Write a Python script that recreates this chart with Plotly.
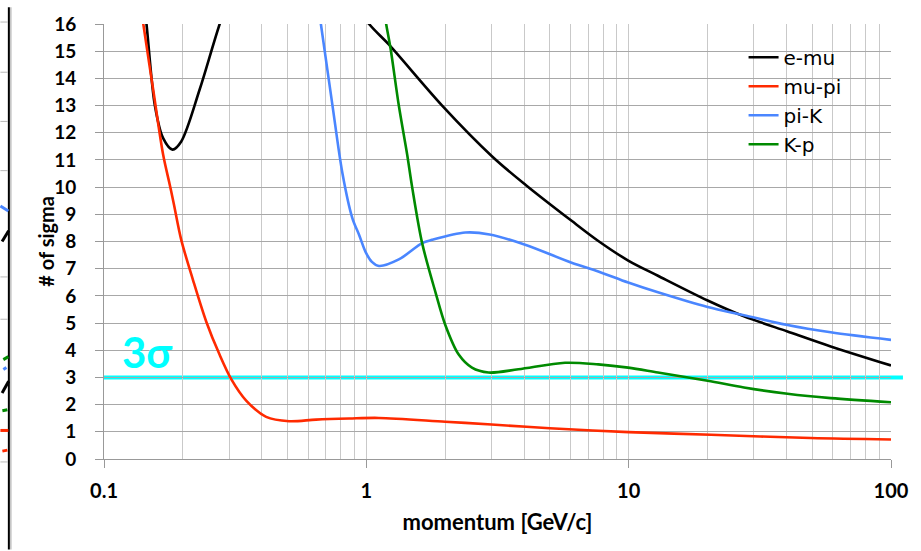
import plotly.graph_objects as go

# ---- data: separation power (# of sigma) vs momentum [GeV/c] ----
emu_p = [0.14, 0.1452, 0.1563, 0.168, 0.1824, 0.197, 0.2317, 0.276, 0.4, 0.7,
         1.024, 1.22, 1.945, 3.025, 4.05, 6.06, 7.66, 9.96, 12.93, 20.0, 27.5,
         40.3, 58.9, 100]
emu_s = [17.3, 16.0, 13.0, 11.8, 11.38, 11.68, 13.6, 16.0, 20.5, 18.2,
         16.0, 15.24, 13.0, 11.12, 10.08, 8.76, 8.02, 7.3, 6.74, 5.83, 5.25,
         4.69, 4.14, 3.44]

mupi_p = [0.135, 0.1412, 0.1539, 0.168, 0.178, 0.1845, 0.197, 0.218, 0.2454,
          0.2757, 0.3055, 0.3483, 0.415, 0.508, 0.643, 0.86, 1.117, 2.0, 3.0,
          5.0, 10.0, 20.6, 49.4, 100]
mupi_s = [17.4, 16.0, 13.6, 11.2, 10.1, 9.39, 8.06, 6.61, 5.05,
          3.84, 2.94, 2.15, 1.55, 1.39, 1.45, 1.49, 1.51, 1.37, 1.27,
          1.13, 0.99, 0.89, 0.77, 0.72]

pik_p = [0.64, 0.671, 0.743, 0.811, 0.885, 0.938, 0.995, 1.05, 1.117, 1.33,
         1.632, 1.78, 2.385, 2.95, 4.03, 6.06, 7.66, 9.96, 12.93, 20.0, 27.5,
         40.3, 58.9, 100]
pik_s = [17.4, 16.0, 13.0, 10.5, 8.85, 8.25, 7.6, 7.25, 7.1, 7.34,
         7.94, 8.06, 8.33, 8.26, 7.88, 7.22, 6.9, 6.49, 6.13, 5.59, 5.29,
         4.93, 4.66, 4.38]

kp_p = [1.15, 1.19, 1.237, 1.33, 1.431, 1.495, 1.632, 1.835, 2.0, 2.25, 2.527,
        2.92, 3.8, 5.72, 7.66, 9.96, 12.93, 20.0, 27.5, 40.3, 58.9, 100]
kp_s = [16.9, 16.0, 15.1, 13.0, 11.2, 10.0, 7.94, 6.13, 4.93, 3.84, 3.36,
        3.18, 3.30, 3.54, 3.48, 3.36, 3.18, 2.88, 2.63, 2.40, 2.24, 2.09]

threshold = 3  # 3 sigma line

series = [
    ("e-mu", emu_p, emu_s, "#000000"),
    ("mu-pi", mupi_p, mupi_s, "#ff2a00"),
    ("pi-K", pik_p, pik_s, "#4a86ff"),
    ("K-p", kp_p, kp_s, "#008a00"),
]

x_major = [0.1, 1, 10, 100]
x_major_text = ["0.1", "1", "10", "100"]
x_minor = [m * d for d in (0.1, 1, 10) for m in range(2, 10)]

fig = go.Figure()
for name, p, s, col in series:
    fig.add_trace(go.Scatter(
        x=p, y=s, name=name, mode="lines",
        line=dict(color=col, width=2.6, shape="spline", smoothing=0.9),
    ))

# plot-area geometry in pixels (used for the decorations outside the axes)
W, H = 921, 551
L, R, T, B = 104, 27, 17, 92
PW, PH = W - L - R, H - T - B


def px(x):
    return (x - L) / PW


def py(y):
    return (H - B - y) / PH


shapes = [
    dict(type="line", xref="paper", yref="paper", x0=px(103), x1=px(906),
         y0=threshold / 16, y1=threshold / 16,
         line=dict(color="#00ffff", width=4), layer="between"),
]

# edge of the neighbouring panel on the slide
shapes.append(dict(type="line", xref="paper", yref="paper", x0=px(8.5), x1=px(8.5),
                   y0=py(0), y1=py(551), line=dict(color="#000000", width=2)))
shapes.append(dict(type="line", xref="paper", yref="paper", x0=px(10.5), x1=px(10.5),
                   y0=py(0), y1=py(551), line=dict(color="#c0c0c0", width=1.5)))
for gy in (15, 66, 116, 166, 274, 317, 462):
    shapes.append(dict(type="line", xref="paper", yref="paper", x0=px(0), x1=px(7.5),
                       y0=py(gy), y1=py(gy), line=dict(color="#b8b8b8", width=1)))
stubs = [
    ((0, 202), (8, 207), "#4a86ff", 3),
    ((1.7, 238), (8.3, 227), "#000000", 3),
    ((3, 358), (8, 355), "#008a00", 3),
    ((3, 368), (6, 366), "#4a86ff", 3),
    ((1.7, 392), (8.3, 380), "#000000", 3),
    ((2, 410), (7, 409), "#008a00", 3),
    ((0, 430), (8, 430), "#ff2a00", 3),
    ((2, 451), (7, 450), "#ff2a00", 3),
]
for (xa, ya), (xb, yb), col, w in stubs:
    shapes.append(dict(type="line", xref="paper", yref="paper", x0=px(xa), x1=px(xb),
                       y0=py(ya), y1=py(yb), line=dict(color=col, width=w)))

fig.update_layout(
    width=W, height=H,
    margin=dict(l=L, r=R, t=T, b=B, pad=0),
    paper_bgcolor="white", plot_bgcolor="white",
    font=dict(family="Lato", color="#000000"),
    shapes=shapes,
    annotations=[
        dict(text="<b>3σ</b>", xref="paper", yref="paper", x=px(148), y=py(350),
             xanchor="center", yanchor="middle", showarrow=False,
             font=dict(family="Lato", size=42, color="#00ffff")),
        dict(text="<b># of sigma</b>", xref="paper", yref="paper", x=px(45), y=0.5,
             xanchor="center", yanchor="middle", showarrow=False, textangle=-90,
             font=dict(family="Lato", size=20, color="#000000")),
    ],
    legend=dict(
        x=px(746), y=py(31), xanchor="left", yanchor="top",
        bgcolor="rgba(0,0,0,0)", borderwidth=0,
        font=dict(family="DejaVu Sans", size=20, color="#000000"),
    ),
    showlegend=True,
)

fig.update_xaxes(
    type="log", range=[-1, 2],
    tickmode="array", tickvals=x_major, ticktext=x_major_text,
    ticks="outside", ticklen=8, tickwidth=1, tickcolor="#999999",
    ticklabelstandoff=6,
    tickfont=dict(family="Lato", size=20, weight="bold", color="#000000"),
    showline=True, linecolor="#999999", linewidth=1,
    showgrid=True, gridcolor="#c9c9c9", gridwidth=1.3,
    minor=dict(tickmode="array", tickvals=x_minor, showgrid=True,
               gridcolor="#c9c9c9", gridwidth=1.3, ticks=""),
    title=dict(text="momentum [GeV/c]", standoff=13,
               font=dict(family="Lato", size=22, weight="bold", color="#000000")),
    zeroline=False,
)
fig.update_yaxes(
    range=[0, 16], tick0=0, dtick=1,
    ticks="outside", ticklen=8, tickwidth=1, tickcolor="#999999",
    ticklabelstandoff=15,
    tickfont=dict(family="Lato", size=19, weight="bold", color="#000000"),
    showline=True, linecolor="#999999", linewidth=1,
    showgrid=True, gridcolor="#a8a8a8", gridwidth=1.3,
    zeroline=False,
)

fig.write_html("out.html")
